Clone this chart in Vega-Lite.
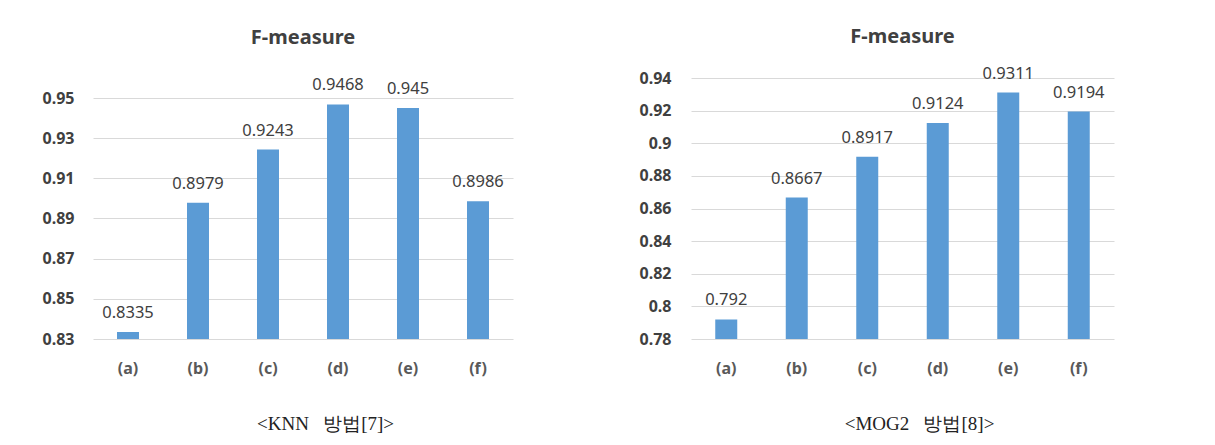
{
  "$schema": "https://vega.github.io/schema/vega-lite/v6.json",
  "background": "white",
  "padding": {"left": 42, "top": 26, "right": 10, "bottom": 5},
  "spacing": 126,
  "config": {
    "view": {"stroke": null},
    "font": "Noto Sans",
    "axis": {"domain": false, "ticks": false, "gridColor": "#d9d9d9", "labelFont": "Noto Sans"}
  },
  "hconcat": [
    {
      "title": {"text": "F-measure", "fontSize": 20, "fontWeight": "bold", "color": "#404040", "offset": 29, "anchor": "middle"},
      "width": 420,
      "height": 261,
      "data": {"values": [
        {"method": "(a)", "f": 0.8335},
        {"method": "(b)", "f": 0.8979},
        {"method": "(c)", "f": 0.9243},
        {"method": "(d)", "f": 0.9468},
        {"method": "(e)", "f": 0.945},
        {"method": "(f)", "f": 0.8986}
      ]},
      "encoding": {
        "x": {"field": "method", "type": "nominal", "sort": null,
          "scale": {"paddingInner": 0, "paddingOuter": 0},
          "axis": {"title": "<KNN\u00a0\u00a0\u00a0방법[7]>", "labelAngle": 0, "labelPadding": 21, "labelFontSize": 16, "labelFontWeight": "bold", "labelColor": "#595959",
            "titleFont": "Liberation Serif", "titleFontSize": 19, "titleFontWeight": "normal", "titleColor": "#222222", "titleX": 232, "titleY": 84, "titleBaseline": "middle"}},
        "y": {"field": "f", "type": "quantitative",
          "scale": {"domain": [0.83, 0.95], "range": [261, 20], "zero": false, "nice": false},
          "axis": {"title": null, "values": [0.83, 0.85, 0.87, 0.89, 0.91, 0.93, 0.95], "format": ".2f", "labelPadding": 19, "labelFontSize": 16, "labelFontWeight": "bold", "labelColor": "#404040"}}
      },
      "layer": [
        {"mark": {"type": "bar", "color": "#5B9BD5", "width": 22, "clip": true}},
        {"mark": {"type": "text", "baseline": "bottom", "dy": -11, "fontSize": 16.5, "color": "#404040"},
          "encoding": {"text": {"field": "f", "type": "quantitative", "format": "~g"}}}
      ]
    },
    {
      "title": {"text": "F-measure", "fontSize": 20, "fontWeight": "bold", "color": "#404040", "offset": 19, "anchor": "middle"},
      "width": 423,
      "height": 261,
      "data": {"values": [
        {"method": "(a)", "f": 0.792},
        {"method": "(b)", "f": 0.8667},
        {"method": "(c)", "f": 0.8917},
        {"method": "(d)", "f": 0.9124},
        {"method": "(e)", "f": 0.9311},
        {"method": "(f)", "f": 0.9194}
      ]},
      "encoding": {
        "x": {"field": "method", "type": "nominal", "sort": null,
          "scale": {"paddingInner": 0, "paddingOuter": 0},
          "axis": {"title": "<MOG2\u00a0\u00a0\u00a0방법[8]>", "labelAngle": 0, "labelPadding": 21, "labelFontSize": 16, "labelFontWeight": "bold", "labelColor": "#595959",
            "titleFont": "Liberation Serif", "titleFontSize": 19, "titleFontWeight": "normal", "titleColor": "#222222", "titleX": 228, "titleY": 84, "titleBaseline": "middle"}},
        "y": {"field": "f", "type": "quantitative",
          "scale": {"domain": [0.78, 0.94], "zero": false, "nice": false},
          "axis": {"title": null, "values": [0.78, 0.8, 0.82, 0.84, 0.86, 0.88, 0.9, 0.92, 0.94], "format": "~g", "labelPadding": 20, "labelFontSize": 16, "labelFontWeight": "bold", "labelColor": "#404040"}}
      },
      "layer": [
        {"mark": {"type": "bar", "color": "#5B9BD5", "width": 22, "clip": true}},
        {"mark": {"type": "text", "baseline": "bottom", "dy": -11, "fontSize": 16.5, "color": "#404040"},
          "encoding": {"text": {"field": "f", "type": "quantitative", "format": "~g"}}}
      ]
    }
  ]
}
